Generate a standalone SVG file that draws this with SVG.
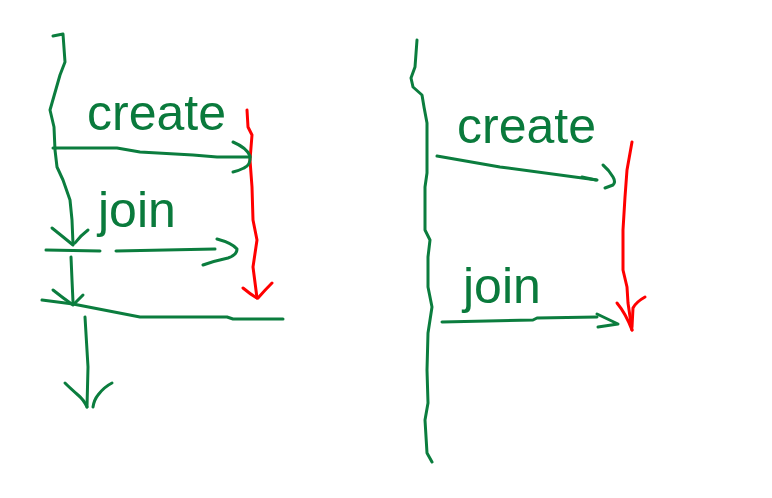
<svg xmlns="http://www.w3.org/2000/svg" width="772" height="498" viewBox="0 0 772 498">
<style>
.g{fill:none;stroke:#0b7d3e;stroke-width:3;stroke-linecap:round;stroke-linejoin:round}
.r{fill:none;stroke:#ff0000;stroke-width:3;stroke-linecap:round;stroke-linejoin:round}
.t{font-family:"Liberation Sans",Arial,sans-serif;font-size:50px;fill:#0a7a3c}
</style>
<rect width="772" height="498" fill="#ffffff"/>
<g id="left-figure">
  <g id="left-main-thread">
    <path class="g" d="M53,36 L63,34 L65,62 L60,75 L52,103 L50,110 L54,127 L55,150 L57,167 L63,180 L70,200 L72,220 L73,244"/>
    <path class="g" d="M52,228 Q62,236 73,245 M88,230 Q80,236 75,243"/>
    <path class="g" d="M46,250 L100,251"/>
    <path class="g" d="M71,257 L72,280 L73,302"/>
    <path class="g" d="M53,290 Q63,298 73,305 M83,295 Q78,300 73,305"/>
    <path class="g" d="M42,300 L73,304 L140,317 L227,317 L233,319 L283,319"/>
    <path class="g" d="M85,317 L88,367 L87,407"/>
    <path class="g" d="M65,383 Q70,388 78,395 Q84,400 87,407 M112,383 Q104,387 98,395 Q94,400 93,407"/>
  </g>
  <g id="left-created-thread">
    <path class="r" d="M247,110 L248,127 L252,135 L250,160 L252,187 L253,220 L257,240 L253,267 L257,298"/>
    <path class="r" d="M243,288 Q250,294 257,298 M272,283 Q265,290 258,298"/>
  </g>
  <g id="left-connectors">
    <path class="g" d="M53,148 L117,148 L140,152 L193,155 L217,157 L250,157"/>
    <path class="g" d="M233,142 Q247,148 250,156 Q251,165 244,168 Q238,171 233,172"/>
    <path class="g" d="M116,251 L215,249"/>
    <path class="g" d="M217,239 Q232,243 237,249 Q237,255 228,258 Q214,261 203,265"/>
  </g>
  <text class="t" x="87" y="130">create</text>
  <text class="t" x="98" y="227">join</text>
</g>
<g id="right-figure">
  <g id="right-main-thread">
    <path class="g" d="M417,40 L415,67 L411,78 L413,87 L422,95 L424,107 L427,123 L427,140 L427,173 L425,187 L425,230 L430,240 L428,257 L428,287 L432,307 L428,333 L427,370 L428,403 L425,420 L427,453 L432,462"/>
  </g>
  <g id="right-created-thread">
    <path class="r" d="M632,142 L627,170 L625,197 L623,230 L623,270 L627,287 L628,303 L632,330"/>
    <path class="r" d="M617,303 Q626,314 632,330 M645,297 Q636,302 633,308 L632,327"/>
  </g>
  <g id="right-connectors">
    <path class="g" d="M437,156 L500,167 L597,180"/>
    <path class="g" d="M582,177 L596,180"/>
    <path class="g" d="M603,165 Q609,170 613,177 Q616,182 613,185 L605,188"/>
    <path class="g" d="M442,322 L533,320 L537,318 L597,317"/>
    <path class="g" d="M597,314 L618,324 L598,327"/>
  </g>
  <text class="t" x="457" y="143">create</text>
  <text class="t" x="463" y="303">join</text>
</g>
</svg>
